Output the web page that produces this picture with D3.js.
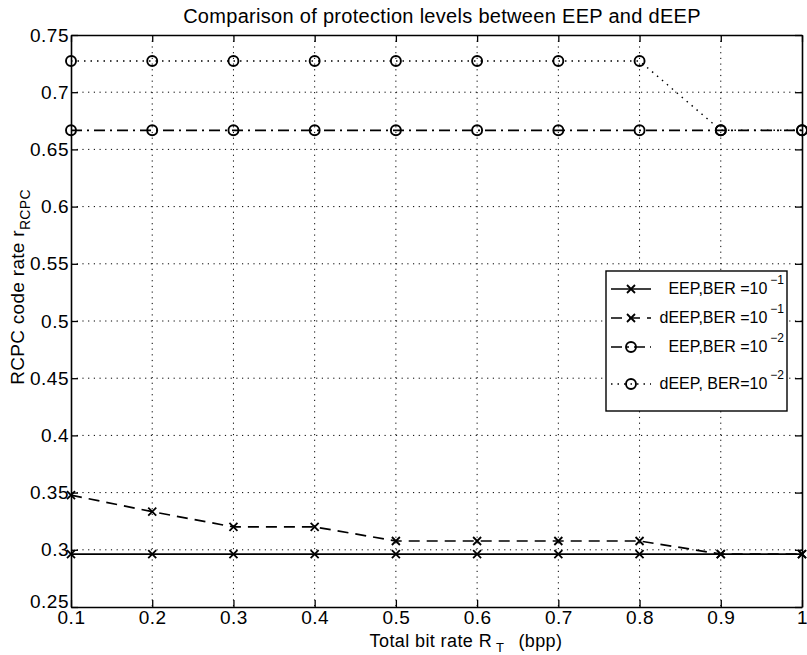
<!DOCTYPE html>
<html><head><meta charset="utf-8">
<script src="https://cdn.jsdelivr.net/npm/d3@7"></script>
<style>
body{margin:0;background:#fff;}
text{font-family:"Liberation Sans",Arial,Helvetica,sans-serif;fill:#000;}
</style></head>
<body><svg id="c" width="807" height="655"></svg>
<script>
const xValues = [0.1,0.2,0.3,0.4,0.5,0.6,0.7,0.8,0.9,1.0];
const eep1 = [0.2963,0.2963,0.2963,0.2963,0.2963,0.2963,0.2963,0.2963,0.2963,0.2963];
const deep1 = [0.3478,0.3333,0.32,0.32,0.3077,0.3077,0.3077,0.3077,0.2963,0.2963];
const eep2 = [0.6667,0.6667,0.6667,0.6667,0.6667,0.6667,0.6667,0.6667,0.6667,0.6667];
const deep2 = [0.7273,0.7273,0.7273,0.7273,0.7273,0.7273,0.7273,0.7273,0.6667,0.6667];
const xTicks = [0.1,0.2,0.3,0.4,0.5,0.6,0.7,0.8,0.9,1];
const xTickLabels = ["0.1","0.2","0.3","0.4","0.5","0.6","0.7","0.8","0.9","1"];
const yTicks = [0.25,0.3,0.35,0.4,0.45,0.5,0.55,0.6,0.65,0.7,0.75];
const yTickLabels = ["0.25","0.3","0.35","0.4","0.45","0.5","0.55","0.6","0.65","0.7","0.75"];
const seriesNames = ["EEP,BER =10","dEEP,BER =10","EEP,BER =10","dEEP, BER=10"];
const seriesExp = ["\u22121","\u22121","\u22122","\u22122"];

const L=71, R=802, T=35, B=607;
const svg=d3.select("#c");
const x=d3.scaleLinear().domain([0.1,1]).range([L,R]);
const y=d3.scaleLinear().domain([0.25,0.75]).range([B,T]);

// grid
const g=svg.append("g");
g.selectAll(".gx").data(xTicks.slice(1,-1)).enter().append("line")
 .attr("x1",d=>x(d)).attr("x2",d=>x(d)).attr("y1",T).attr("y2",B)
 .attr("stroke","#000").attr("stroke-width",1).attr("stroke-dasharray","1.2,4.5");
g.selectAll(".gy").data(yTicks.slice(1,-1)).enter().append("line")
 .attr("y1",d=>y(d)).attr("y2",d=>y(d)).attr("x1",L).attr("x2",R)
 .attr("stroke","#000").attr("stroke-width",1).attr("stroke-dasharray","1.2,4.5");

// axes
const fmtX=(d,i)=>xTickLabels[i], fmtY=(d,i)=>yTickLabels[i];
const ax1=svg.append("g").attr("transform",`translate(0,${B})`).call(d3.axisBottom(x).tickValues(xTicks).tickFormat(fmtX).tickSizeInner(-7).tickSizeOuter(0).tickPadding(4));
const ax2=svg.append("g").attr("transform",`translate(${L},0)`).call(d3.axisLeft(y).tickValues(yTicks).tickFormat(fmtY).tickSizeInner(-7).tickSizeOuter(0).tickPadding(2));
const ax3=svg.append("g").attr("transform",`translate(0,${T})`).call(d3.axisTop(x).tickValues(xTicks).tickFormat("").tickSizeInner(-7).tickSizeOuter(0));
const ax4=svg.append("g").attr("transform",`translate(${R},0)`).call(d3.axisRight(y).tickValues(yTicks).tickFormat("").tickSizeInner(-7).tickSizeOuter(0));
[ax1,ax2,ax3,ax4].forEach(a=>{a.selectAll("path").attr("stroke","#000").attr("stroke-width",1.6);a.selectAll("line").attr("stroke","#000").attr("stroke-width",1.3);a.selectAll("text").style("font-size","19px").style("letter-spacing","0.5px").attr("fill","#000");});
ax1.selectAll("text").attr("dy","0.71em");
ax2.selectAll("text").filter((d,i)=>i===0).attr("dy","0.05em");

// series
const series=[
 {v:eep1, dash:null, m:"x"},
 {v:deep1, dash:"11,7", m:"x"},
 {v:eep2, dash:"11,5,2,5", m:"o"},
 {v:deep2, dash:"1.5,5", m:"o"}];
const line=d3.line().x((d,i)=>x(xValues[i])).y(d=>y(d));
function marker(sel,m,cx,cy){
 if(m==="x"){
  sel.append("path").attr("d",`M${cx-4},${cy-4}L${cx+4},${cy+4}M${cx-4},${cy+4}L${cx+4},${cy-4}`).attr("stroke","#000").attr("stroke-width",1.8);
 } else {
  sel.append("circle").attr("cx",cx).attr("cy",cy).attr("r",5).attr("fill","none").attr("stroke","#000").attr("stroke-width",1.9);
 }
}
series.forEach(s=>{
 svg.append("path").attr("d",line(s.v)).attr("fill","none").attr("stroke","#000")
  .attr("stroke-width",s.dash==="1.5,5"?1.4:1.7).attr("stroke-dasharray",s.dash);
 const mg=svg.append("g");
 s.v.forEach((d,i)=>marker(mg,s.m,x(xValues[i]),y(d)));
});

// title and labels
svg.append("text").attr("x",442).attr("y",23).attr("text-anchor","middle").style("font-size","20px").style("letter-spacing","0.3px").text("Comparison of protection levels between EEP and dEEP");
const xl=svg.append("text").attr("x",466).attr("y",647).attr("text-anchor","middle").style("font-size","18px").style("letter-spacing","0.4px");
xl.append("tspan").text("Total bit rate R");
xl.append("tspan").attr("dx",4).attr("dy",5).style("font-size","13px").text("T");
xl.append("tspan").attr("dx",14).attr("dy",-5).text("(bpp)");
const yl=svg.append("text").attr("transform","translate(24,287) rotate(-90)").attr("text-anchor","middle").style("font-size","19px").style("letter-spacing","0.3px");
yl.append("tspan").text("RCPC code rate r");
yl.append("tspan").attr("dy",6).style("font-size","14px").text("RCPC");

// legend
const lg=svg.append("g");
lg.append("rect").attr("x",606).attr("y",271).attr("width",181).attr("height",140).attr("fill","#fff").attr("stroke","#000").attr("stroke-width",1.4);
const rowsY=[289,318,347,384];
series.forEach((s,i)=>{
 const ry=rowsY[i];
 lg.append("line").attr("x1",611).attr("x2",651).attr("y1",ry).attr("y2",ry).attr("stroke","#000").attr("stroke-width",1.6).attr("stroke-dasharray",s.dash);
 marker(lg,s.m,631,ry);
 const t=lg.append("text").attr("x",784).attr("y",ry+5).attr("text-anchor","end").style("font-size","16px");
 t.append("tspan").text(seriesNames[i]);
 t.append("tspan").attr("dx",3).attr("dy",-10).style("font-size","12px").text(seriesExp[i]);
});
</script></body></html>
